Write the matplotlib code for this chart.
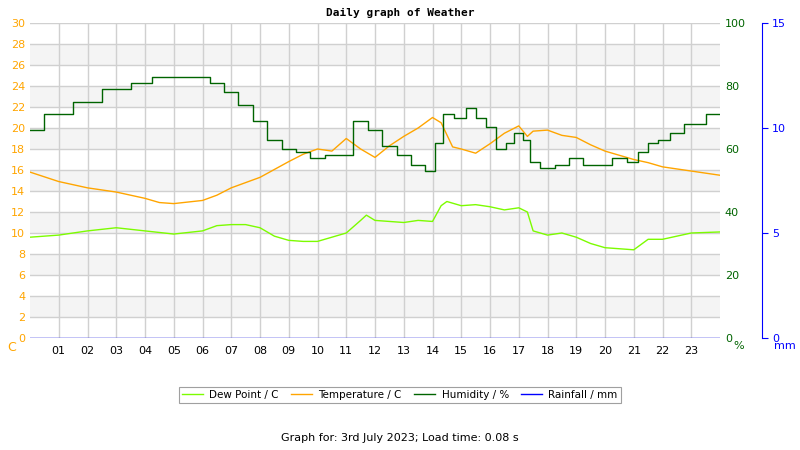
import matplotlib as mpl
mpl.use("agg")
import matplotlib.pyplot as plt
import numpy as np

hours = list(range(1, 24))
hour_labels = ['%02d' % h for h in hours]

temp_t = [0, 1, 2, 3, 4, 4.5, 5, 6, 6.5, 7, 8, 9, 9.5, 10, 10.5, 11, 11.5, 12, 12.5, 13, 13.5, 14, 14.3,
          14.7, 15, 15.5, 16, 16.5, 17, 17.3, 17.5, 18, 18.5, 19, 19.5, 20, 20.5, 21, 21.5, 22, 23, 24]
temp_v = [15.8, 14.9, 14.3, 13.9, 13.3, 12.9, 12.8, 13.1, 13.6, 14.3, 15.3, 16.8, 17.5, 18.0, 17.8, 19.0,
          18.0, 17.2, 18.3, 19.2, 20.0, 21.0, 20.5, 18.2, 18.0, 17.6, 18.5, 19.5, 20.2, 19.2, 19.7, 19.8,
          19.3, 19.1, 18.4, 17.8, 17.4, 17.0, 16.7, 16.3, 15.9, 15.5]

hum_t = [0, 1, 2, 3, 4, 4.5, 6, 6.5, 7, 7.5, 8, 8.5, 9, 9.5, 10, 10.5, 11, 11.5, 12, 12.5, 13, 13.5, 14,
         14.2, 14.5, 15, 15.3, 15.7, 16, 16.4, 16.7, 17, 17.3, 17.5, 18, 18.5, 19, 19.5, 20, 20.5, 21,
         21.3, 21.7, 22, 22.5, 23, 24]
hum_v = [66, 71, 75, 79, 81, 83, 83, 81, 78, 74, 69, 63, 60, 59, 57, 58, 58, 69, 66, 61, 58, 55, 53,
         62, 71, 70, 73, 70, 67, 60, 62, 65, 63, 56, 54, 55, 57, 55, 55, 57, 56, 59, 62, 63, 65, 68, 71]

dew_t = [0, 1, 2, 3, 4, 5, 6, 6.5, 7, 7.5, 8, 8.5, 9, 9.5, 10, 10.5, 11, 11.5, 11.7, 12, 13, 13.5, 14,
         14.3, 14.5, 15, 15.5, 16, 16.5, 17, 17.3, 17.5, 18, 18.5, 19, 19.5, 20, 20.5, 21, 21.3, 21.5,
         22, 22.5, 23, 24]
dew_v = [9.6, 9.8, 10.2, 10.5, 10.2, 9.9, 10.2, 10.7, 10.8, 10.8, 10.5, 9.7, 9.3, 9.2, 9.2, 9.6, 10.0,
         11.2, 11.7, 11.2, 11.0, 11.2, 11.1, 12.6, 13.0, 12.6, 12.7, 12.5, 12.2, 12.4, 12.0, 10.2, 9.8,
         10.0, 9.6, 9.0, 8.6, 8.5, 8.4, 9.0, 9.4, 9.4, 9.7, 10.0, 10.1]

rain_t = [0, 24]
rain_v = [0, 0]

orange = '#ffa500'
dgreen = '#006400'
lgreen = '#7cfc00'
blue = '#0000ff'

fig = plt.figure(figsize=(8, 4.5), dpi=100)
ax = fig.add_axes([30 / 800, 112 / 450, 690 / 800, 315 / 450])
ax.set_xlim(0, 24)
ax.set_ylim(0, 30)
for k in range(0, 30, 4):
    ax.axhspan(k + 2, k + 4, color='#f4f4f4', zorder=0, lw=0)
ax.set_yticks(range(0, 31, 2))
ax.set_xticks(hours)
ax.set_xticklabels(hour_labels, fontsize=8)
ax.grid(True, color='#d0d0d0', lw=1, zorder=1)
ax.tick_params(axis='y', colors=orange, labelsize=8, length=0)
ax.tick_params(axis='x', length=0, labelsize=8, pad=6)
for s in ax.spines.values():
    s.set_visible(False)
ax.text(-0.02, -0.01, 'C', transform=ax.transAxes, color=orange, fontsize=9, ha='right', va='top')

ax.plot(temp_t, temp_v, color=orange, lw=1, zorder=3)
ax.plot(dew_t, dew_v, color=lgreen, lw=1, zorder=3)

ax2 = ax.twinx()
ax2.set_ylim(0, 100)
ax2.set_yticks(range(0, 101, 20))
ax2.tick_params(axis='y', colors=dgreen, labelsize=8, length=0)
for s in ax2.spines.values():
    s.set_visible(False)
ax2.plot(hum_t, hum_v, color=dgreen, lw=1, drawstyle='steps-mid', zorder=4)
ax2.text(1.019, -0.01, '%', transform=ax2.transAxes, color=dgreen, fontsize=8, va='top')

ax3 = ax.twinx()
ax3.set_ylim(0, 15)
ax3.spines['right'].set_position(('outward', 30))
for n, s in ax3.spines.items():
    s.set_visible(n == 'right')
ax3.spines['right'].set_color(blue)
ax3.set_yticks([0, 5, 10, 15])
ax3.tick_params(axis='y', colors=blue, labelsize=8, length=4)
ax3.plot(rain_t, rain_v, color=blue, lw=1)
ax3.text(1.078, -0.01, 'mm', transform=ax3.transAxes, color=blue, fontsize=8, va='top')

fig.text(400 / 800, 1 - 13 / 450, 'Daily graph of Weather', ha='center', va='center',
         family='DejaVu Sans Mono', fontweight='bold', fontsize=8)

handles = [plt.Line2D([], [], color=c, lw=1) for c in (lgreen, orange, dgreen, blue)]
leg = fig.legend(handles, ['Dew Point / C', 'Temperature / C', 'Humidity / %', 'Rainfall / mm'],
                 loc='center', bbox_to_anchor=(400 / 800, 1 - 395 / 450), ncol=4, fontsize=7.5,
                 fancybox=False, edgecolor='#888888', handlelength=2.0, columnspacing=1.2,
                 handletextpad=0.6, borderpad=0.3)
leg.get_frame().set_linewidth(0.8)

fig.text(400 / 800, 1 - 438 / 450, 'Graph for: 3rd July 2023; Load time: 0.08 s', ha='center',
         va='center', fontsize=8)

fig.savefig('out.png', dpi=100)
